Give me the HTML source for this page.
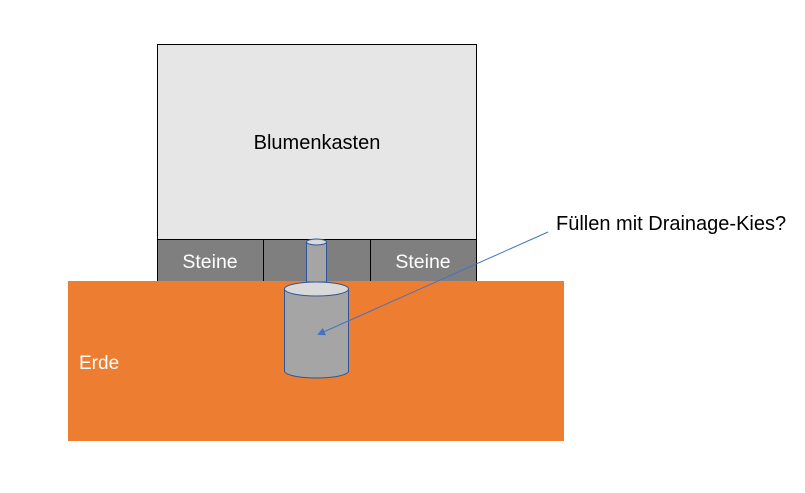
<!DOCTYPE html>
<html><head><meta charset="utf-8"><style>
html,body{margin:0;padding:0;background:#fff;width:805px;height:493px;overflow:hidden}
svg text{font-family:"Liberation Sans",sans-serif}
</style></head><body>
<svg width="805" height="493" viewBox="0 0 805 493" xmlns="http://www.w3.org/2000/svg">
<defs><marker id="ah" markerWidth="8" markerHeight="8" refX="6" refY="4" orient="auto" markerUnits="userSpaceOnUse"><path d="M0,0 L8,4 L0,8 z" fill="#4472c4"/></marker></defs>
<rect x="157.5" y="44.5" width="319" height="195" fill="#e7e6e6" stroke="#000" stroke-width="1"/>
<text x="317" y="149" font-size="20" text-anchor="middle" fill="#000">Blumenkasten</text>
<rect x="157.5" y="239.5" width="106" height="42" fill="#7f7f7f" stroke="#000"/>
<rect x="263.5" y="239.5" width="107" height="42" fill="#7f7f7f" stroke="#000"/>
<rect x="370.5" y="239.5" width="106" height="42" fill="#7f7f7f" stroke="#000"/>
<text x="210" y="268" font-size="19.5" text-anchor="middle" fill="#fff">Steine</text>
<text x="423" y="268" font-size="19.5" text-anchor="middle" fill="#fff">Steine</text>
<rect x="68" y="281" width="496" height="160" fill="#ed7d31"/>
<text x="79" y="369" font-size="19" fill="#fff">Erde</text>
<path d="M306.5,242 L306.5,282 L326.5,282 L326.5,242" fill="#a5a5a5" stroke="#2f5597" stroke-width="1"/>
<ellipse cx="316.5" cy="242" rx="10" ry="3" fill="#d9d9d9" stroke="#2f5597" stroke-width="1"/>
<path d="M284.5,289 L284.5,371 A32,7 0 0 0 348.5,371 L348.5,289" fill="#a5a5a5" stroke="#2f5597" stroke-width="1"/>
<ellipse cx="316.5" cy="289" rx="32" ry="7" fill="#d9d9d9" stroke="#2f5597" stroke-width="1"/>
<line x1="548" y1="232" x2="319" y2="334" stroke="#4472c4" stroke-width="1" marker-end="url(#ah)"/>
<text x="556" y="230" font-size="20" fill="#000">Füllen mit Drainage-Kies?</text>
</svg>
</body></html>
